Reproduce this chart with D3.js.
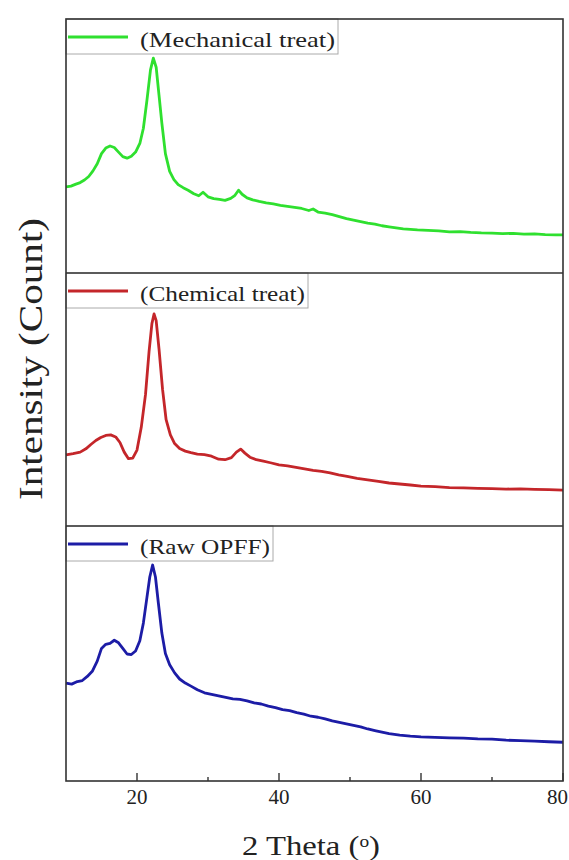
<!DOCTYPE html>
<html>
<head>
<meta charset="utf-8">
<script src="https://cdn.jsdelivr.net/npm/d3@7"></script>
<style>
  body { margin: 0; background: #fff; }
  text { font-family: "Liberation Serif", "Times New Roman", Tinos, serif; fill: #222; }
</style>
</head>
<body>
<svg id="chart" width="569" height="860"></svg>
<script>
// 2 theta values and intensities (arbitrary counts)
const mechTheta = [10, 10.7, 11.4, 12, 12.6, 13.2, 13.8, 14.4, 15, 15.6, 16.2, 16.8, 17.4, 18, 18.6, 19.2, 19.8, 20.4, 20.9, 21.4, 21.9, 22.3, 22.7, 23.1, 23.5, 24, 24.6, 25.2, 25.8, 26.5, 27.2, 28, 28.7, 29.3, 30, 30.8, 31.6, 32.4, 33.2, 33.8, 34.3, 34.8, 35.5, 36.3, 37.2, 38.2, 39.2, 40.2, 41.2, 42.2, 43.2, 44.2, 44.8, 45.5, 46.5, 47.5, 48.5, 49.5, 50.5, 51.5, 52.5, 53.5, 54.5, 55.5, 56.5, 57.5, 58.5, 59.5, 61, 62.5, 64, 65.5, 67, 68.5, 70, 71.5, 73, 74.5, 76, 77.5, 79, 80];
const mechCount = [339, 342, 350, 356, 366, 380, 402, 430, 470, 492, 500, 494, 476, 458, 452, 460, 476, 510, 570, 680, 800, 846, 810, 700, 590, 470, 400, 368, 348, 336, 326, 312, 304, 318, 300, 293, 290, 286, 294, 306, 326, 310, 296, 288, 282, 276, 272, 266, 262, 258, 254, 246, 252, 240, 236, 230, 222, 214, 208, 202, 196, 192, 186, 182, 178, 174, 172, 170, 168, 166, 162, 163, 160, 158, 157, 155, 156, 153, 154, 151, 150, 150];

const chemTheta = [10, 11, 12, 12.8, 13.5, 14.2, 14.9, 15.6, 16.3, 17, 17.6, 18.2, 18.8, 19.4, 20, 20.6, 21.2, 21.7, 22.1, 22.4, 22.7, 23.1, 23.6, 24.1, 24.7, 25.3, 26, 26.8, 27.6, 28.5, 29.5, 30.5, 31.5, 32.4, 33.3, 34, 34.6, 35.2, 35.9, 36.8, 37.8, 38.8, 40, 41.2, 42.4, 43.6, 44.8, 46, 47.2, 48.4, 49.6, 51, 52.5, 54, 55.5, 57, 58.5, 60, 62, 64, 66, 68, 70, 72, 74, 76, 78, 80];
const chemCount = [281, 286, 292, 305, 322, 338, 350, 358, 360, 352, 330, 292, 266, 268, 300, 390, 520, 690, 800, 838, 812, 700, 540, 420, 360, 326, 306, 296, 290, 284, 282, 276, 264, 262, 270, 292, 304, 288, 272, 262, 256, 250, 242, 238, 232, 226, 220, 216, 210, 202, 196, 188, 182, 176, 170, 166, 162, 158, 156, 152, 151, 149, 148, 146, 147, 145, 144, 142];

const rawTheta = [10, 10.8, 11.6, 12.3, 13, 13.7, 14.4, 15, 15.6, 16.2, 16.8, 17.4, 18, 18.6, 19.2, 19.8, 20.4, 20.9, 21.4, 21.8, 22.2, 22.6, 23, 23.5, 24, 24.6, 25.3, 26, 26.8, 27.6, 28.5, 29.5, 30.5, 31.5, 32.5, 33.5, 34.5, 35.5, 36.5, 37.5, 38.5, 39.5, 40.5, 41.5, 42.5, 43.5, 44.5, 45.5, 46.5, 47.5, 48.5, 49.5, 50.5, 51.5, 52.5, 53.5, 54.5, 55.5, 57, 58.5, 60, 62, 64, 66, 68, 70, 72, 74, 76, 78, 80];
const rawCount = [384, 380, 390, 394, 410, 430, 470, 520, 536, 540, 552, 542, 520, 498, 496, 510, 550, 620, 720, 800, 847, 800, 700, 580, 500, 456, 424, 400, 384, 372, 358, 346, 340, 334, 328, 322, 320, 314, 306, 302, 294, 288, 280, 276, 268, 262, 254, 250, 244, 236, 230, 224, 218, 212, 204, 198, 192, 186, 180, 176, 173, 171, 169, 168, 165, 164, 160, 158, 156, 154, 152];

const seriesNames = ["(Mechanical treat)", "(Chemical treat)", "(Raw OPFF)"];
const seriesColors = ["#2fe02f", "#c4262a", "#1c1ca6"];
const xTicks = [20, 40, 60, 80];
const xMinor = [30, 50, 70];

const svg = d3.select("#chart");
const left = 66, right = 563;
const panelTops = [19, 273, 526];
const panelBottoms = [273, 526, 781];
const legendWidths = [272, 242, 207];
const textWidths = [195, 165, 130];

const x = d3.scaleLinear().domain([10, 80]).range([left, right]);

const data = [
  mechTheta.map((t, i) => [t, mechCount[i]]),
  chemTheta.map((t, i) => [t, chemCount[i]]),
  rawTheta.map((t, i) => [t, rawCount[i]])
];

data.forEach((series, k) => {
  const y = d3.scaleLinear().domain([0, 1000]).range([panelBottoms[k], panelTops[k]]);
  const line = d3.line().x(d => x(d[0])).y(d => y(d[1]));
  svg.append("path")
    .datum(series)
    .attr("fill", "none")
    .attr("stroke", seriesColors[k])
    .attr("stroke-width", 2.8)
    .attr("stroke-linejoin", "round")
    .attr("d", line);

  // legend box
  const g = svg.append("g");
  g.append("rect")
    .attr("x", left).attr("y", panelTops[k])
    .attr("width", legendWidths[k]).attr("height", 35)
    .attr("fill", "#fff").attr("stroke", "#aaa").attr("stroke-width", 1);
  g.append("line")
    .attr("x1", left + 2).attr("x2", left + 62)
    .attr("y1", panelTops[k] + 18).attr("y2", panelTops[k] + 18)
    .attr("stroke", seriesColors[k]).attr("stroke-width", 3);
  g.append("text")
    .attr("x", left + 74).attr("y", panelTops[k] + 28)
    .attr("font-size", 22)
    .attr("textLength", textWidths[k])
    .attr("lengthAdjust", "spacingAndGlyphs")
    .text(seriesNames[k]);
});

// frame and dividers
svg.append("rect")
  .attr("x", left).attr("y", panelTops[0])
  .attr("width", right - left).attr("height", panelBottoms[2] - panelTops[0])
  .attr("fill", "none").attr("stroke", "#333").attr("stroke-width", 1.6);
[panelBottoms[0], panelBottoms[1]].forEach(yy => {
  svg.append("line")
    .attr("x1", left).attr("x2", right).attr("y1", yy).attr("y2", yy)
    .attr("stroke", "#333").attr("stroke-width", 1.6);
});

// x axis ticks pointing inward
const axis = svg.append("g").attr("transform", `translate(0,${panelBottoms[2]})`);
axis.selectAll(".major").data(xTicks).enter().append("line")
  .attr("x1", d => x(d)).attr("x2", d => x(d))
  .attr("y1", 0).attr("y2", -8)
  .attr("stroke", "#333").attr("stroke-width", 1.4);
axis.selectAll(".minor").data(xMinor).enter().append("line")
  .attr("x1", d => x(d)).attr("x2", d => x(d))
  .attr("y1", 0).attr("y2", -4)
  .attr("stroke", "#333").attr("stroke-width", 1.4);
axis.selectAll(".lbl").data(xTicks).enter().append("text")
  .attr("x", d => d === 80 ? 568 : x(d)).attr("y", 23)
  .attr("text-anchor", d => d === 80 ? "end" : "middle")
  .attr("font-size", 20)
  .attr("textLength", 21)
  .attr("lengthAdjust", "spacingAndGlyphs")
  .text(d => d);

// axis titles
const xt = svg.append("text")
  .attr("x", 311).attr("y", 855)
  .attr("text-anchor", "middle")
  .attr("font-size", 27)
  .attr("textLength", 138)
  .attr("lengthAdjust", "spacingAndGlyphs");
xt.append("tspan").text("2 Theta (");
xt.append("tspan").attr("baseline-shift", "super").attr("font-size", 16).text("o");
xt.append("tspan").text(")");

svg.append("text")
  .attr("transform", "translate(42,359) rotate(-90)")
  .attr("text-anchor", "middle")
  .attr("font-size", 34)
  .attr("textLength", 282)
  .attr("lengthAdjust", "spacingAndGlyphs")
  .text("Intensity (Count)");
</script>
</body>
</html>
